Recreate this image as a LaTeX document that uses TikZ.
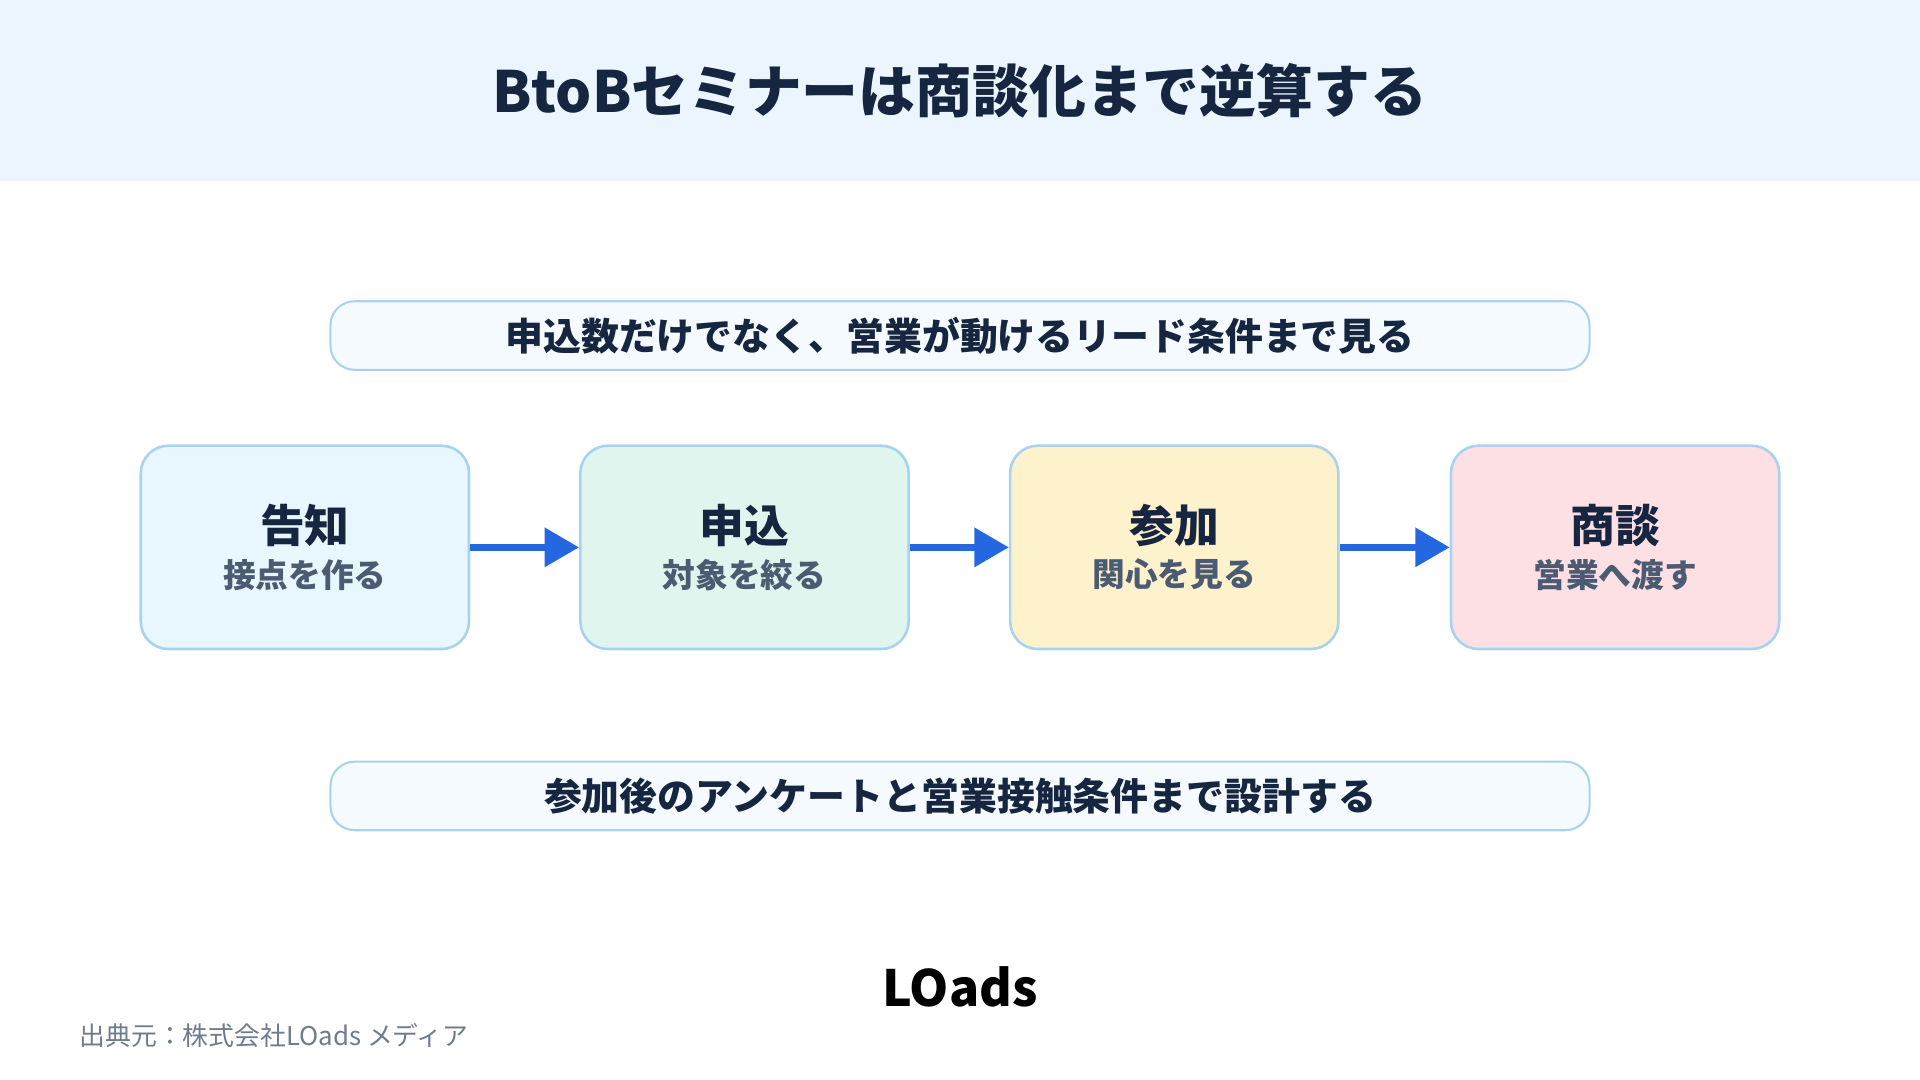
\documentclass[tikz,border=0pt]{standalone}
\usepackage{fontspec}
\setmainfont{Noto Sans CJK JP}
\usetikzlibrary{positioning,arrows.meta}
\definecolor{navy}{HTML}{172640}
\definecolor{subgray}{HTML}{4B5B72}
\definecolor{headbg}{HTML}{EAF5FE}
\definecolor{edgeblue}{HTML}{A9D2EE}
\definecolor{flowblue}{HTML}{2467E0}
\definecolor{fillA}{HTML}{E8F7FD}
\definecolor{fillB}{HTML}{E0F5EE}
\definecolor{fillC}{HTML}{FEF2CC}
\definecolor{fillD}{HTML}{FDE0E4}
\definecolor{bannerbg}{HTML}{F5FAFE}
\newcommand{\stagetext}[2]{{\fontsize{26}{30}\selectfont\bfseries #1}\\[6pt]{\fontsize{19}{22}\selectfont\bfseries\color{subgray} #2}}
\begin{document}
\begin{tikzpicture}[x=0.025cm,y=-0.025cm,
  banner/.style={draw=edgeblue, line width=1.2pt, rounded corners=14pt, fill=bannerbg,
    minimum width=25.7cm, minimum height=1.4cm, font=\fontsize{22}{26}\selectfont\bfseries, text=navy},
  stage/.style={draw=edgeblue, line width=1.5pt, rounded corners=16pt,
    minimum width=6.7cm, minimum height=4.15cm, align=center, text=navy},
  flow/.style={-{Triangle[length=20pt,width=22pt]}, draw=flowblue, line width=4pt}]
\useasboundingbox (0,0) rectangle (1568,882);
\fill[headbg] (0,0) rectangle (1568,148);
\node[font=\fontsize{33}{38}\selectfont\bfseries, text=navy] (title) at (784,74) {BtoBセミナーは商談化まで逆算する};
\node[banner] (top) at (784,274) {申込数だけでなく、営業が動けるリード条件まで見る};
\node[stage, fill=fillA] (s1) at (249,447) {\stagetext{告知}{接点を作る}};
\node[stage, fill=fillB] (s2) at (608,447) {\stagetext{申込}{対象を絞る}};
\node[stage, fill=fillC] (s3) at (959,447) {\stagetext{参加}{関心を見る}};
\node[stage, fill=fillD] (s4) at (1319,447) {\stagetext{商談}{営業へ渡す}};
\draw[flow] (s1) -- (s2);
\draw[flow] (s2) -- (s3);
\draw[flow] (s3) -- (s4);
\node[banner] (bottom) at (784,650) {参加後のアンケートと営業接触条件まで設計する};
\node[font=\fontsize{29}{32}\selectfont\bfseries, text=black] (logo) at (784,806) {LOads};
\node[anchor=west, font=\fontsize{15}{18}\selectfont, text=subgray!80] (source) at (60,846) {出典元：株式会社LOads メディア};
\end{tikzpicture}
\end{document}
